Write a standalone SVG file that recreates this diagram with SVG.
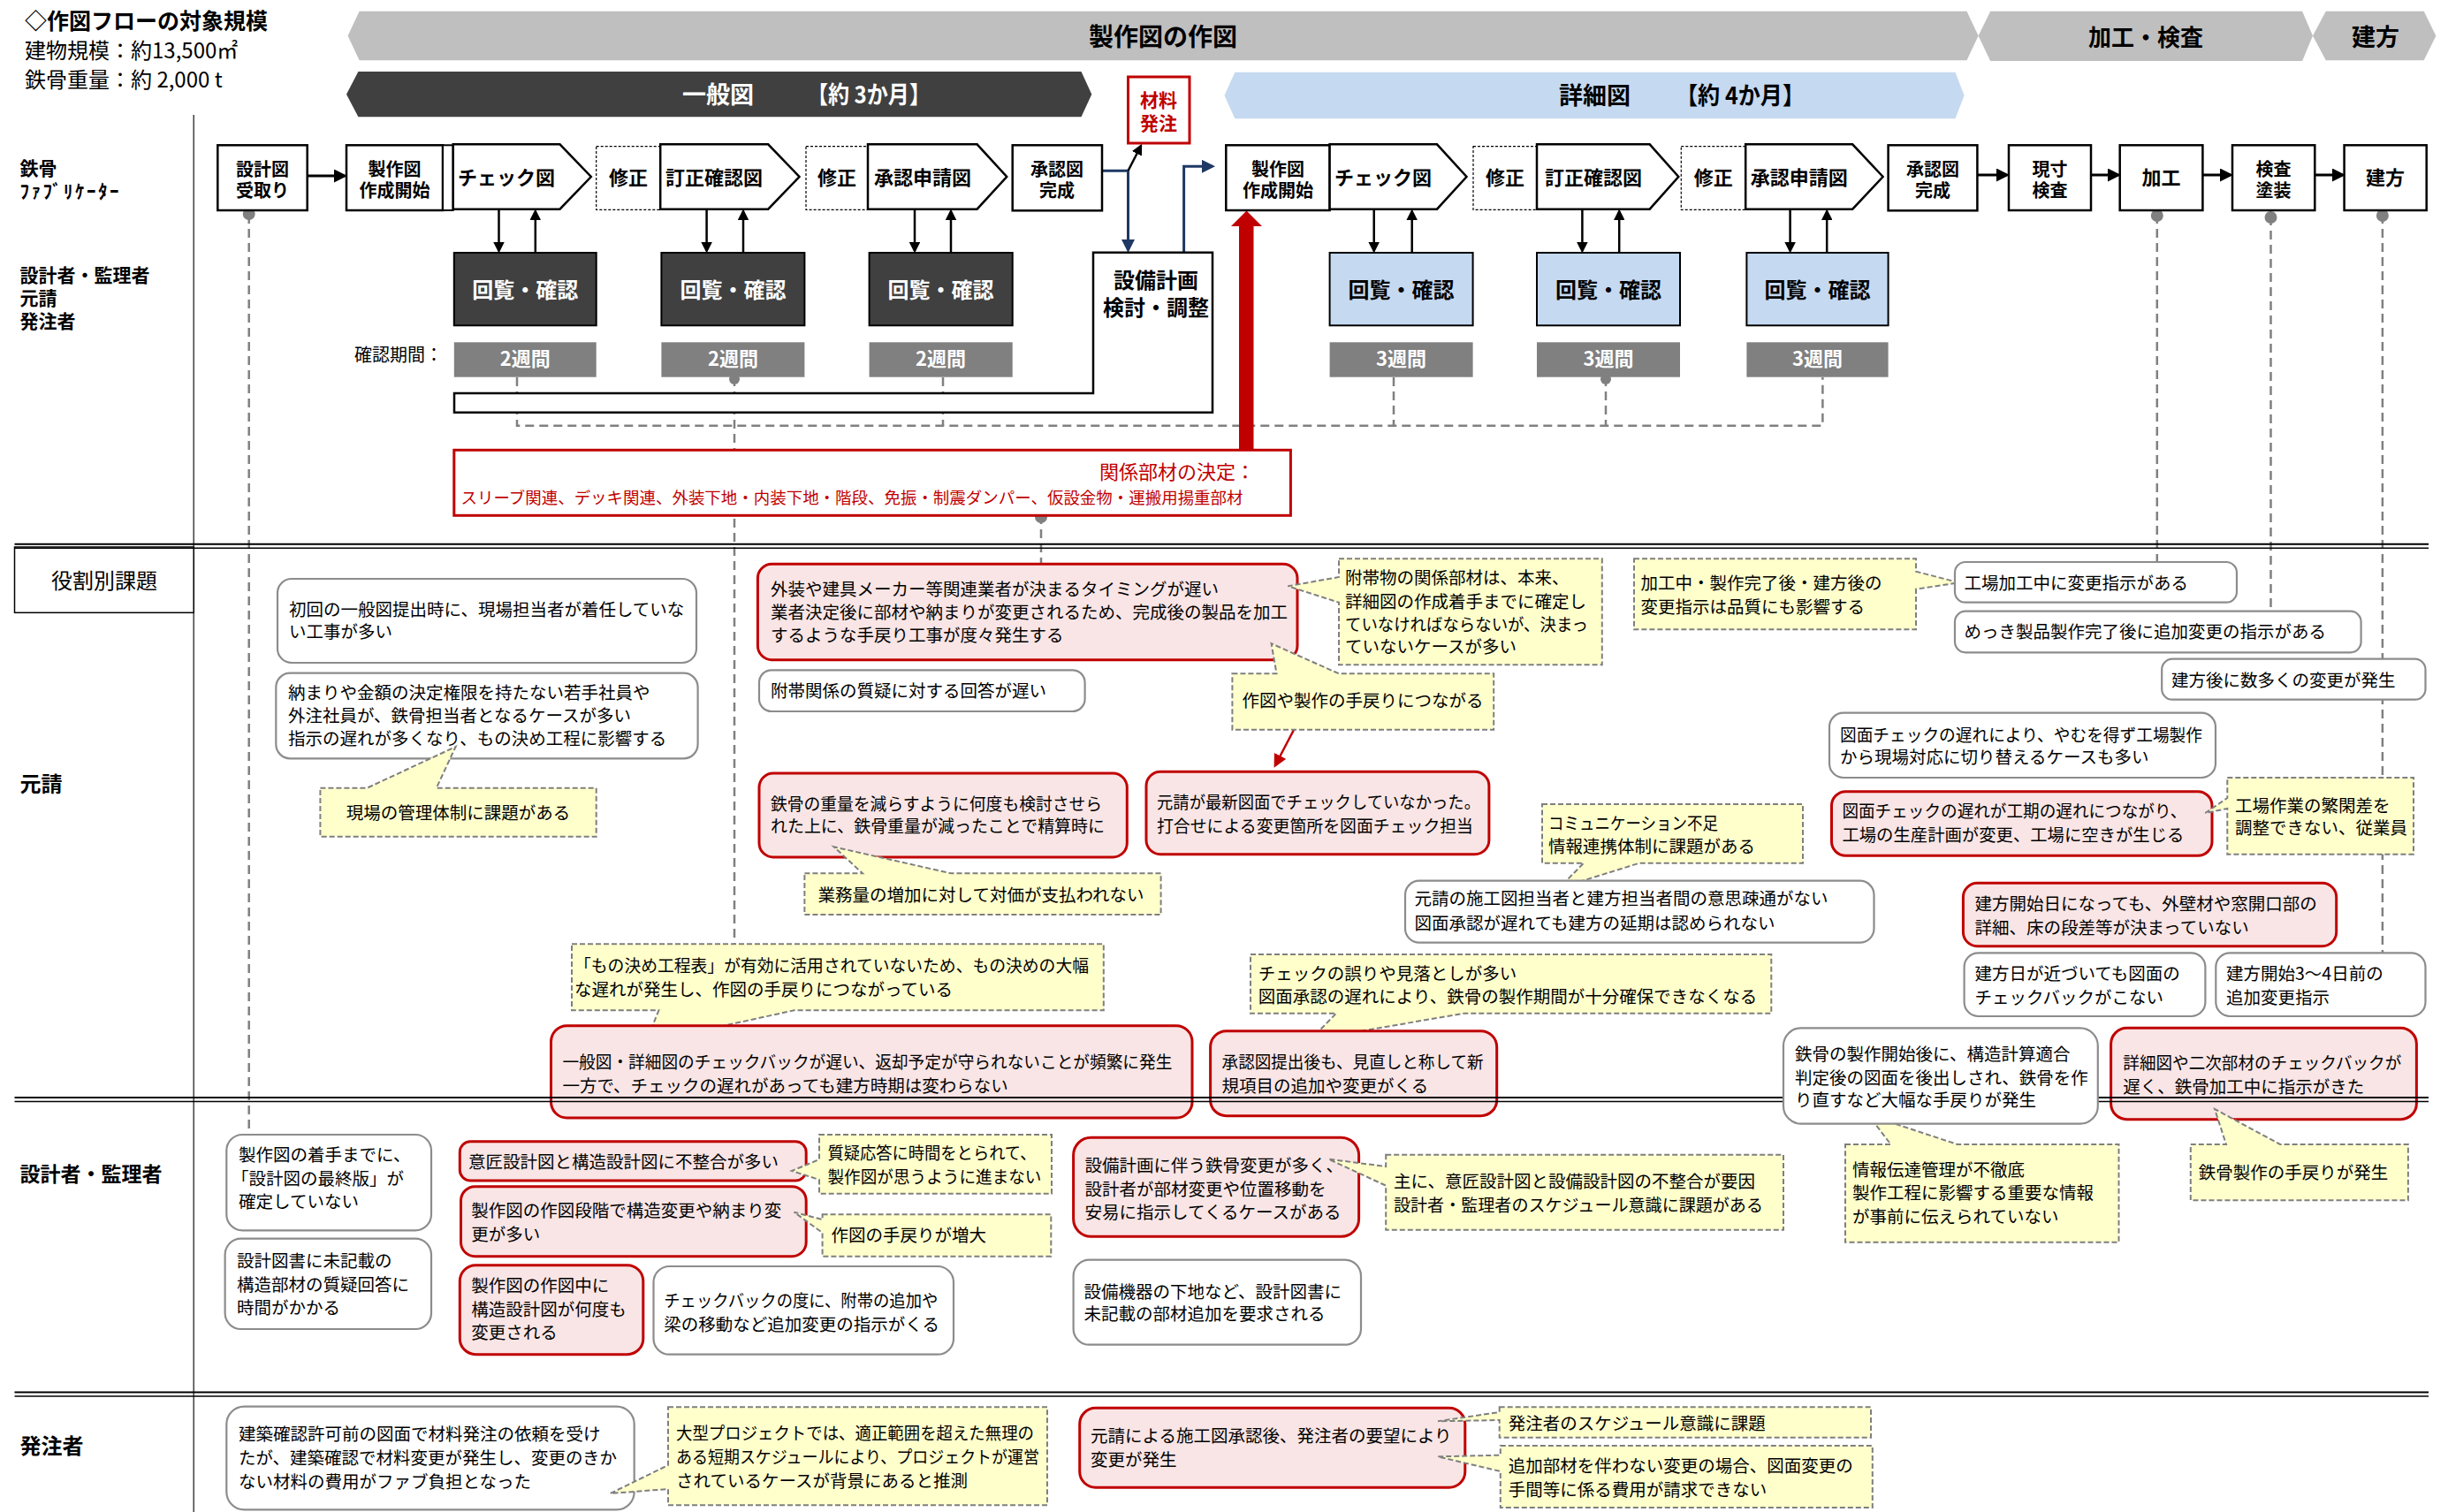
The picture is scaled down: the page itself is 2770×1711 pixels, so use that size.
<svg xmlns="http://www.w3.org/2000/svg" width="2770" height="1711" viewBox="0 0 2770 1711">
<defs>
<style>
text{font-family:"Noto Sans CJK JP","Noto Sans CJK SC",sans-serif;fill:#000}
.t{font-size:19.5px}
.lb{font-size:22px;font-weight:700;text-anchor:middle}
.l2{font-size:20px}
.ln{font-size:21px;font-weight:700}
.wb{fill:#fff;stroke:#8c8c8c;stroke-width:2.2}
.pk{fill:#F9E5E5;stroke:#C00000;stroke-width:3}
.co{fill:#FFFFCC;stroke:#7f7f7f;stroke-width:2;stroke-dasharray:6 3}
.dl{fill:none;stroke:#808080;stroke-width:2.5;stroke-dasharray:10 6}
.fl{fill:#fff;stroke:#000;stroke-width:2.5}
.fx{fill:#fff;stroke:#000;stroke-width:1.2;stroke-dasharray:3 2}
.rv{fill:#404040;stroke:#000;stroke-width:2}
.rb{fill:#C5D9F1;stroke:#000;stroke-width:2}
.du{fill:#808080}
.dot{fill:#808080}
.ar{fill:none;stroke:#000;stroke-width:3}
.ar2{fill:none;stroke:#000;stroke-width:2.5}
.red{fill:#C00000}
.wt{fill:#fff}
.dbl{stroke:#000;fill:none}
</style>
<marker id="ah" viewBox="0 0 10 10" refX="8" refY="5" markerWidth="5" markerHeight="5" orient="auto" markerUnits="strokeWidth"><path d="M0,0 L10,5 L0,10 z" fill="#000"/></marker>
<marker id="abl" viewBox="0 0 10 10" refX="8" refY="5" markerWidth="5" markerHeight="5" orient="auto" markerUnits="strokeWidth"><path d="M0,0 L10,5 L0,10 z" fill="#1F3864"/></marker>
<marker id="ard" viewBox="0 0 10 10" refX="8" refY="5" markerWidth="6" markerHeight="6" orient="auto" markerUnits="strokeWidth"><path d="M0,0 L10,5 L0,10 z" fill="#C00000"/></marker>
</defs>
<rect width="2770" height="1711" fill="#fff"/>

<g id="header">
<text x="28" y="33" style="font-size:25px;font-weight:700">◇作図フローの対象規模</text>
<text x="28" y="66" style="font-size:24px">建物規模：約13,500㎡</text>
<text x="28" y="99" style="font-size:24px">鉄骨重量：約 2,000 t</text>
</g>

<g id="bands">
<polygon points="393.6,40.5 406.6,12.7 2225.5,12.7 2238.6,40.5 2225.5,68.3 406.6,68.3" fill="#BFBFBF"/>
<text x="1316" y="52" style="font-size:28px;font-weight:700;text-anchor:middle">製作図の作図</text>
<polygon points="2238.6,40.5 2252.2,12.7 2605.1,12.7 2617,40.5 2605.1,69 2252.2,69" fill="#BFBFBF"/>
<text x="2428" y="52" style="font-size:26px;font-weight:700;text-anchor:middle">加工・検査</text>
<polygon points="2617,40.5 2631.8,12.7 2742.7,12.7 2756.4,40.5 2742.7,68.3 2631.8,68.3" fill="#BFBFBF"/>
<text x="2688" y="52" style="font-size:27px;font-weight:700;text-anchor:middle">建方</text>
<polygon points="392,106.7 405.4,81 1223.5,81 1235.3,106.7 1223.5,132.3 405.4,132.3" fill="#404040"/>
<text class="wt" x="772" y="117" style="font-size:27px;font-weight:700">一般図</text>
<text class="wt" x="913" y="117" textLength="140" lengthAdjust="spacingAndGlyphs" style="font-size:27px;font-weight:700">【約 3か月】</text>
<polygon points="1385.5,108 1397.3,81.7 2212.5,81.7 2222.6,108 2212.5,134.3 1397.3,134.3" fill="#C5D9F1"/>
<text x="1764" y="118" style="font-size:27px;font-weight:700">詳細図</text>
<text x="1896" y="118" textLength="146" lengthAdjust="spacingAndGlyphs" style="font-size:27px;font-weight:700">【約 4か月】</text>
</g>

<g id="lanes-labels">
<text class="ln" x="22.4" y="198">鉄骨<tspan x="22.4" dy="26" style="letter-spacing:2.5px">ﾌｧﾌﾞﾘｹｰﾀｰ</tspan></text>
<text class="ln" x="22.4" y="319">設計者・監理者<tspan x="22.4" dy="26">元請</tspan><tspan x="22.4" dy="26">発注者</tspan></text>
<text x="501" y="409" style="font-size:20px;text-anchor:end">確認期間：</text>
<text x="22.4" y="896" style="font-size:24px;font-weight:700">元請</text>
<text x="22.4" y="1337" style="font-size:23px;font-weight:700">設計者・監理者</text>
<text x="22.4" y="1645" style="font-size:24px;font-weight:700">発注者</text>
<line x1="219.2" y1="130" x2="219.2" y2="1711" stroke="#404040" stroke-width="1.5"/>
</g>

<g id="connectors">
<path class="dl" d="M281.7,243 V1284"/>
<path class="dl" d="M585,427 V481.7 H2062.4 V427"/>
<path class="dl" d="M831,427 V1161"/>
<path class="dl" d="M1067,427 V481.7"/>
<path class="dl" d="M1577,427 V481.7"/>
<path class="dl" d="M1817,427 V481.7"/>
<path class="dl" d="M1178,583 V638"/>
<path class="dl" d="M2440.8,243 V636"/>
<path class="dl" d="M2569.5,245 V691.7"/>
<path class="dl" d="M2695.9,243 V1078"/>
<circle class="dot" cx="281.7" cy="242" r="7"/>
<circle class="dot" cx="2440.8" cy="244" r="7"/>
<circle class="dot" cx="2569.5" cy="246" r="7"/>
<circle class="dot" cx="2695.9" cy="244" r="7"/>
<circle class="dot" cx="831" cy="429" r="6"/>
<circle class="dot" cx="1817" cy="429" r="6"/>
<circle class="dot" cx="1178" cy="585" r="7"/>
<path class="ar" d="M347.7,199 H390" marker-end="url(#ah)"/>
<path class="ar" d="M2237.4,198 H2271" marker-end="url(#ah)"/>
<path class="ar" d="M2366,198 H2397" marker-end="url(#ah)"/>
<path class="ar" d="M2492.4,198 H2524" marker-end="url(#ah)"/>
<path class="ar" d="M2619.3,198 H2651" marker-end="url(#ah)"/>
<path class="ar2" d="M564.5,237 V284" marker-end="url(#ah)"/>
<path class="ar2" d="M605.8,286 V239" marker-end="url(#ah)"/>
<path class="ar2" d="M799.6,237 V284" marker-end="url(#ah)"/>
<path class="ar2" d="M841,286 V239" marker-end="url(#ah)"/>
<path class="ar2" d="M1035,237 V284" marker-end="url(#ah)"/>
<path class="ar2" d="M1076,286 V239" marker-end="url(#ah)"/>
<path class="ar2" d="M1554.7,237 V284" marker-end="url(#ah)"/>
<path class="ar2" d="M1597.7,286 V239" marker-end="url(#ah)"/>
<path class="ar2" d="M1790.4,237 V284" marker-end="url(#ah)"/>
<path class="ar2" d="M1832.2,286 V239" marker-end="url(#ah)"/>
<path class="ar2" d="M2025.6,237 V284" marker-end="url(#ah)"/>
<path class="ar2" d="M2067.2,286 V239" marker-end="url(#ah)"/>
<path d="M1247,193.3 H1276.5 V283" fill="none" stroke="#1F3864" stroke-width="3" marker-end="url(#abl)"/>
<path class="ar2" d="M1276.5,193.3 L1291,165" marker-end="url(#ah)"/>
<path d="M1339.6,285.7 V188.3 H1372" fill="none" stroke="#1F3864" stroke-width="3" marker-end="url(#abl)"/>
<path d="M1402,509 V256 H1393 L1410.5,238.5 L1428,256 H1418.5 V509 Z" fill="#C00000"/>
<path d="M1465,824 L1443,866" fill="none" stroke="#C00000" stroke-width="2.5" marker-end="url(#ard)"/>
</g>

<g id="flow">
<g id="n-uketori"><rect class="fl" x="246.3" y="164.3" width="101.4" height="73.7"/><text class="lb l2" x="297" y="198.5">設計図<tspan x="297" dy="24.5">受取り</tspan></text></g>
<g id="n-kaishi1"><rect class="fl" x="392" y="164.3" width="109" height="73.7"/><rect class="fl" x="501" y="164.3" width="11.7" height="73.7" style="stroke-width:2"/><text class="lb l2" x="446.5" y="198.5">製作図<tspan x="446.5" dy="24.5">作成開始</tspan></text></g>
<g id="n-check1"><path class="fl" d="M512.7,163.3 H633.5 L668.8,200 L633.5,236.7 H512.7 Z"/><text class="lb" x="573" y="209">チェック図</text></g>
<g id="n-shusei1"><rect class="fx" x="674.7" y="165.7" width="72.5" height="71.6"/><text class="lb" x="711" y="209">修正</text></g>
<g id="n-teisei1"><path class="fl" d="M747.2,163.3 H869.2 L904.5,200 L869.2,236.7 H747.2 Z"/><text class="lb" x="808" y="209">訂正確認図</text></g>
<g id="n-shusei2"><rect class="fx" x="912" y="165.7" width="70" height="71.6"/><text class="lb" x="947" y="209">修正</text></g>
<g id="n-shinsei1"><path class="fl" d="M982,163.3 H1105.6 L1139.2,200 L1105.6,236.7 H982 Z"/><text class="lb" x="1044" y="209">承認申請図</text></g>
<g id="n-kansei1"><rect class="fl" x="1145.7" y="164.3" width="101.3" height="74"/><text class="lb l2" x="1196" y="198.5">承認図<tspan x="1196" dy="24.5">完成</tspan></text></g>
<g id="n-zairyo"><rect x="1276.5" y="87" width="69.5" height="75" fill="#fff" stroke="#C00000" stroke-width="3"/><text class="lb red" x="1311" y="121" style="font-size:21px">材料<tspan x="1311" dy="26">発注</tspan></text></g>
<g id="n-setsubi"><polygon class="fl" points="1237,285.7 1372,285.7 1372,466.7 514,466.7 514,445 1237,445"/><text class="lb" x="1308" y="326" style="font-size:24px">設備計画<tspan x="1308" dy="31">検討・調整</tspan></text></g>
<g id="n-kaishi2"><rect class="fl" x="1387.3" y="164.3" width="117.3" height="73.7"/><text class="lb l2" x="1446" y="198.5">製作図<tspan x="1446" dy="24.5">作成開始</tspan></text></g>
<g id="n-check2"><path class="fl" d="M1504.6,163.3 H1626 L1659.5,200 L1626,236.7 H1504.6 Z"/><text class="lb" x="1565" y="209">チェック図</text></g>
<g id="n-shusei3"><rect class="fx" x="1667" y="165.7" width="72" height="71.6"/><text class="lb" x="1703" y="209">修正</text></g>
<g id="n-teisei2"><path class="fl" d="M1739,163.3 H1866.7 L1899.3,200 L1866.7,236.7 H1739 Z"/><text class="lb" x="1803" y="209">訂正確認図</text></g>
<g id="n-shusei4"><rect class="fx" x="1902.3" y="165.7" width="72.9" height="71.6"/><text class="lb" x="1938.7" y="209">修正</text></g>
<g id="n-shinsei2"><path class="fl" d="M1975.2,163.3 H2096.2 L2130.6,200 L2096.2,236.7 H1975.2 Z"/><text class="lb" x="2035.7" y="209">承認申請図</text></g>
<g id="n-kansei2"><rect class="fl" x="2136.6" y="164.3" width="100.8" height="74"/><text class="lb l2" x="2187" y="198.5">承認図<tspan x="2187" dy="24.5">完成</tspan></text></g>
<g id="n-gensun"><rect class="fl" x="2273" y="164.3" width="93" height="73.7"/><text class="lb l2" x="2319.5" y="198.5">現寸<tspan x="2319.5" dy="24.5">検査</tspan></text></g>
<g id="n-kako"><rect class="fl" x="2398.7" y="164.3" width="93.7" height="73.7"/><text class="lb" x="2445.5" y="209">加工</text></g>
<g id="n-tosou"><rect class="fl" x="2526" y="164.3" width="93.3" height="73.7"/><text class="lb l2" x="2572.6" y="198.5">検査<tspan x="2572.6" dy="24.5">塗装</tspan></text></g>
<g id="n-tatekata"><rect class="fl" x="2652.6" y="164.3" width="93.1" height="73.7"/><text class="lb" x="2699" y="209">建方</text></g>
</g>

<g id="reviews">
<g id="r1"><rect class="rv" x="513.8" y="286" width="160.9" height="82.3"/><text class="lb wt" x="594.2" y="337" style="font-size:24px">回覧・確認</text><rect class="du" x="513.8" y="387.3" width="160.9" height="39.4"/><text class="lb wt" x="594.2" y="414">2週間</text></g>
<g id="r2"><rect class="rv" x="748.4" y="286" width="162" height="82.3"/><text class="lb wt" x="829.4" y="337" style="font-size:24px">回覧・確認</text><rect class="du" x="748.4" y="387.3" width="162" height="39.4"/><text class="lb wt" x="829.4" y="414">2週間</text></g>
<g id="r3"><rect class="rv" x="983.6" y="286" width="162.1" height="82.3"/><text class="lb wt" x="1064.6" y="337" style="font-size:24px">回覧・確認</text><rect class="du" x="983.6" y="387.3" width="162.1" height="39.4"/><text class="lb wt" x="1064.6" y="414">2週間</text></g>
<g id="r4"><rect class="rb" x="1504.6" y="286" width="162" height="82.3"/><text class="lb" x="1585.6" y="337" style="font-size:24px">回覧・確認</text><rect class="du" x="1504.6" y="387.3" width="162" height="39.4"/><text class="lb wt" x="1585.6" y="414">3週間</text></g>
<g id="r5"><rect class="rb" x="1739" y="286" width="162" height="82.3"/><text class="lb" x="1820" y="337" style="font-size:24px">回覧・確認</text><rect class="du" x="1739" y="387.3" width="162" height="39.4"/><text class="lb wt" x="1820" y="414">3週間</text></g>
<g id="r6"><rect class="rb" x="1976.4" y="286" width="160.2" height="82.3"/><text class="lb" x="2056.5" y="337" style="font-size:24px">回覧・確認</text><rect class="du" x="1976.4" y="387.3" width="160.2" height="39.4"/><text class="lb wt" x="2056.5" y="414">3週間</text></g>
</g>

<g id="n-kankei">
<rect x="513.8" y="509.3" width="946.6" height="74" fill="#fff" stroke="#C00000" stroke-width="3"/>
<text class="red" x="1244" y="542" style="font-size:22px">関係部材の決定：</text>
<text class="red" x="521.5" y="570" textLength="885" lengthAdjust="spacingAndGlyphs" style="font-size:18.5px">スリーブ関連、デッキ関連、外装下地・内装下地・階段、免振・制震ダンパー、仮設金物・運搬用揚重部材</text>
</g>

<g id="n-role"><rect x="16.5" y="619" width="202.7" height="74.3" fill="#fff" stroke="#000" stroke-width="1.5"/><text x="118" y="666" style="font-size:24px;text-anchor:middle">役割別課題</text></g>

<g id="issues">
<g id="i-A"><rect class="wb" x="314" y="655" width="474" height="95" rx="16"/><text class="t" x="327" y="697">初回の一般図提出時に、現場担当者が着任していな</text><text class="t" x="327" y="722">い工事が多い</text></g>
<g id="i-B"><rect class="wb" x="312.3" y="761.7" width="477.3" height="96.6" rx="16"/><text class="t" x="326" y="791">納まりや金額の決定権限を持たない若手社員や</text><text class="t" x="326" y="817">外注社員が、鉄骨担当者となるケースが多い</text><text class="t" x="326" y="843">指示の遅れが多くなり、もの決め工程に影響する</text></g>
<g id="c-1"><path class="co" d="M362.4,891.7 H415.4 L515.6,845 L493.8,891.7 H674.7 V946.7 H362.4 Z"/><text class="t" x="518.5" y="927" style="text-anchor:middle">現場の管理体制に課題がある</text></g>
<g id="i-C"><rect class="pk" x="857.4" y="638.3" width="610.6" height="108.4" rx="16"/><text class="t" x="872" y="674">外装や建具メーカー等関連業者が決まるタイミングが遅い</text><text class="t" x="872" y="700">業者決定後に部材や納まりが変更されるため、完成後の製品を加工</text><text class="t" x="872" y="726">するような手戻り工事が度々発生する</text></g>
<g id="i-D"><rect class="wb" x="859" y="758.3" width="368.6" height="46.7" rx="14"/><text class="t" x="872" y="789">附帯関係の質疑に対する回答が遅い</text></g>
<g id="c-E"><path class="co" d="M1515,632.3 H1812.8 V752.3 H1515 V681.7 L1457.4,663.3 L1515,653 Z"/><text class="t" x="1522" y="661">附帯物の関係部材は、本来、</text><text class="t" x="1522" y="688">詳細図の作成着手までに確定し</text><text class="t" x="1522" y="714" textLength="275" lengthAdjust="spacingAndGlyphs">ていなければならないが、決まっ</text><text class="t" x="1522" y="739">ていないケースが多い</text></g>
<g id="c-F"><path class="co" d="M1394.4,762.3 H1444.5 L1438.6,728.3 L1515,762.3 H1690.2 V825.7 H1394.4 Z"/><text class="t" x="1542" y="800" style="text-anchor:middle">作図や製作の手戻りにつながる</text></g>
<g id="i-G"><rect class="pk" x="859" y="875" width="416.3" height="95" rx="16"/><text class="t" x="872" y="917" textLength="375" lengthAdjust="spacingAndGlyphs">鉄骨の重量を減らすように何度も検討させら</text><text class="t" x="872" y="942" textLength="378" lengthAdjust="spacingAndGlyphs">れた上に、鉄骨重量が減ったことで精算時に</text></g>
<g id="c-H"><path class="co" d="M910.4,988.3 H976 L943.6,958.3 L1076,988.3 H1313.6 V1035 H910.4 Z"/><text class="t" x="1110" y="1020" style="text-anchor:middle">業務量の増加に対して対価が支払われない</text></g>
<g id="i-I"><rect class="pk" x="1297" y="873.3" width="387.9" height="93.4" rx="16"/><text class="t" x="1309" y="915" textLength="366" lengthAdjust="spacingAndGlyphs">元請が最新図面でチェックしていなかった。</text><text class="t" x="1309" y="942" textLength="358" lengthAdjust="spacingAndGlyphs">打合せによる変更箇所を図面チェック担当</text></g>
<g id="c-J"><path class="co" d="M1745,910 H2040 V976.7 H1855 L1764,1005 L1792,976.7 H1745 Z"/><text class="t" x="1752" y="939" textLength="192" lengthAdjust="spacingAndGlyphs">コミュニケーション不足</text><text class="t" x="1752" y="965">情報連携体制に課題がある</text></g>
<g id="i-K"><rect class="wb" x="1590" y="996.7" width="530.5" height="70" rx="16"/><text class="t" x="1600.6" y="1024">元請の施工図担当者と建方担当者間の意思疎通がない</text><text class="t" x="1600.6" y="1052">図面承認が遅れても建方の延期は認められない</text></g>
<g id="c-L"><path class="co" d="M647,1068.3 H1248.8 V1143.3 H898.6 L730.7,1180 L745.4,1143.3 H647 Z"/><text class="t" x="650" y="1100" textLength="582" lengthAdjust="spacingAndGlyphs">「もの決め工程表」が有効に活用されていないため、もの決めの大幅</text><text class="t" x="650" y="1127">な遅れが発生し、作図の手戻りにつながっている</text></g>
<g id="i-M"><rect class="pk" x="623.5" y="1160.7" width="725.5" height="104.3" rx="18"/><text class="t" x="636.4" y="1209" textLength="690" lengthAdjust="spacingAndGlyphs">一般図・詳細図のチェックバックが遅い、返却予定が守られないことが頻繁に発生</text><text class="t" x="636.4" y="1236">一方で、チェックの遅れがあっても建方時期は変わらない</text></g>
<g id="c-N"><path class="co" d="M1415,1080 H2004.3 V1146.7 H1656.6 L1482.8,1176.7 L1512,1146.7 H1415 Z"/><text class="t" x="1423.8" y="1109">チェックの誤りや見落としが多い</text><text class="t" x="1423.8" y="1135">図面承認の遅れにより、鉄骨の製作期間が十分確保できなくなる</text></g>
<g id="i-O"><rect class="pk" x="1369.6" y="1166.7" width="324.1" height="96" rx="18"/><text class="t" x="1382.6" y="1209" textLength="296" lengthAdjust="spacingAndGlyphs">承認図提出後も、見直しと称して新</text><text class="t" x="1382.6" y="1236">規項目の追加や変更がくる</text></g>
<g id="c-P"><path class="co" d="M1849,632.3 H2168 V646.7 L2216.6,659.3 L2168,666.7 V712.3 H1849 Z"/><text class="t" x="1856.6" y="667">加工中・製作完了後・建方後の</text><text class="t" x="1856.6" y="694">変更指示は品質にも影響する</text></g>
<g id="i-Q"><rect class="wb" x="2212" y="636" width="319" height="45.7" rx="12"/><text class="t" x="2222.6" y="667">工場加工中に変更指示がある</text></g>
<g id="i-R"><rect class="wb" x="2212" y="691.7" width="459.6" height="46.6" rx="12"/><text class="t" x="2222.6" y="722">めっき製品製作完了後に追加変更の指示がある</text></g>
<g id="i-S"><rect class="wb" x="2446.2" y="745.7" width="298.3" height="46" rx="12"/><text class="t" x="2457" y="777">建方後に数多くの変更が発生</text></g>
<g id="i-T"><rect class="wb" x="2070" y="806.7" width="437" height="73.3" rx="16"/><text class="t" x="2082" y="839" textLength="410" lengthAdjust="spacingAndGlyphs">図面チェックの遅れにより、やむを得ず工場製作</text><text class="t" x="2082" y="864">から現場対応に切り替えるケースも多い</text></g>
<g id="i-U"><rect class="pk" x="2072.5" y="895.7" width="430.5" height="72.6" rx="16"/><text class="t" x="2084.4" y="925" textLength="390" lengthAdjust="spacingAndGlyphs">図面チェックの遅れが工期の遅れにつながり、</text><text class="t" x="2084.4" y="952" textLength="387" lengthAdjust="spacingAndGlyphs">工場の生産計画が変更、工場に空きが生じる</text></g>
<g id="c-V"><path class="co" d="M2520.3,880 H2731 V966.7 H2520.3 V915 L2495.4,920 L2520.3,903 Z"/><text class="t" x="2529" y="919">工場作業の繁閑差を</text><text class="t" x="2529" y="944">調整できない、従業員</text></g>
<g id="i-W"><rect class="pk" x="2221.4" y="999.3" width="422.3" height="71.4" rx="16"/><text class="t" x="2234.4" y="1030">建方開始日になっても、外壁材や窓開口部の</text><text class="t" x="2234.4" y="1057">詳細、床の段差等が決まっていない</text></g>
<g id="i-X"><rect class="wb" x="2222.6" y="1078.3" width="272.8" height="71.7" rx="16"/><text class="t" x="2234.4" y="1109">建方日が近づいても図面の</text><text class="t" x="2234.4" y="1136">チェックバックがこない</text></g>
<g id="i-Y"><rect class="wb" x="2507.3" y="1078.3" width="237.2" height="71.7" rx="16"/><text class="t" x="2519" y="1109">建方開始3〜4日前の</text><text class="t" x="2519" y="1136">追加変更指示</text></g>
<g id="i-AA"><rect class="pk" x="2388.6" y="1163.3" width="345.8" height="103.4" rx="18"/><text class="t" x="2402.3" y="1210" textLength="315" lengthAdjust="spacingAndGlyphs">詳細図や二次部材のチェックバックが</text><text class="t" x="2402.3" y="1237">遅く、鉄骨加工中に指示がきた</text></g>
<g id="c-BB"><path class="co" d="M2088,1295 H2139.5 L2114,1261.7 L2214.8,1295 H2397.5 V1405.7 H2088 Z"/><text class="t" x="2096" y="1331">情報伝達管理が不徹底</text><text class="t" x="2096" y="1357">製作工程に影響する重要な情報</text><text class="t" x="2096" y="1384">が事前に伝えられていない</text></g>
<g id="c-CC"><path class="co" d="M2478.8,1295 H2519 L2506,1255 L2580,1295 H2724.9 V1358.3 H2478.8 Z"/><text class="t" x="2595" y="1334" style="text-anchor:middle">鉄骨製作の手戻りが発生</text></g>
<g id="i-DD"><rect class="wb" x="256.3" y="1284" width="231.7" height="108.3" rx="18"/><text class="t" x="270" y="1314">製作図の着手までに、</text><text class="t" x="262" y="1341">「設計図の最終版」が</text><text class="t" x="270" y="1367">確定していない</text></g>
<g id="i-EE"><rect class="wb" x="254.6" y="1401.7" width="233.4" height="102.3" rx="18"/><text class="t" x="268" y="1434">設計図書に未記載の</text><text class="t" x="268" y="1461">構造部材の質疑回答に</text><text class="t" x="268" y="1487">時間がかかる</text></g>
<g id="i-FF"><rect class="pk" x="520.3" y="1291.7" width="391.9" height="44.3" rx="12"/><text class="t" x="530" y="1322">意匠設計図と構造設計図に不整合が多い</text></g>
<g id="i-GG"><rect class="pk" x="521.5" y="1342.7" width="390.7" height="79" rx="16"/><text class="t" x="533.3" y="1377">製作図の作図段階で構造変更や納まり変</text><text class="t" x="533.3" y="1404">更が多い</text></g>
<g id="i-HH"><rect class="pk" x="520.3" y="1431.7" width="207.5" height="101" rx="18"/><text class="t" x="533.3" y="1462">製作図の作図中に</text><text class="t" x="533.3" y="1489">構造設計図が何度も</text><text class="t" x="533.3" y="1515">変更される</text></g>
<g id="i-II"><rect class="wb" x="739.5" y="1433" width="339.5" height="99.7" rx="18"/><text class="t" x="751.3" y="1479" textLength="310" lengthAdjust="spacingAndGlyphs">チェックバックの度に、附帯の追加や</text><text class="t" x="751.3" y="1506">梁の移動など追加変更の指示がくる</text></g>
<g id="c-JJ"><path class="co" d="M927,1284 H1190 V1350.7 H927 V1335 L896,1325 L927,1312 Z"/><text class="t" x="936.5" y="1312" textLength="236" lengthAdjust="spacingAndGlyphs">質疑応答に時間をとられて、</text><text class="t" x="936.5" y="1339" textLength="242" lengthAdjust="spacingAndGlyphs">製作図が思うように進まない</text></g>
<g id="c-KK"><path class="co" d="M930.6,1374.3 H1189.3 V1421.7 H930.6 V1395 L898.6,1371.7 L930.6,1380 Z"/><text class="t" x="940.6" y="1405">作図の手戻りが増大</text></g>
<g id="i-LL"><rect class="pk" x="1214.6" y="1287.3" width="323" height="112" rx="20"/><text class="t" x="1227.6" y="1326">設備計画に伴う鉄骨変更が多く、</text><text class="t" x="1227.6" y="1353">設計者が部材変更や位置移動を</text><text class="t" x="1227.6" y="1379">安易に指示してくるケースがある</text></g>
<g id="c-MM"><path class="co" d="M1568.2,1306.7 H2018 V1391.7 H1568.2 V1341.7 L1503.4,1311.7 L1568.2,1320 Z"/><text class="t" x="1577" y="1344">主に、意匠設計図と設備設計図の不整合が要因</text><text class="t" x="1577" y="1371" textLength="418" lengthAdjust="spacingAndGlyphs">設計者・監理者のスケジュール意識に課題がある</text></g>
<g id="i-NN"><rect class="wb" x="1214.6" y="1425.7" width="325.4" height="96" rx="18"/><text class="t" x="1226.4" y="1469">設備機器の下地など、設計図書に</text><text class="t" x="1226.4" y="1494">未記載の部材追加を要求される</text></g>
<g id="i-OO"><rect class="wb" x="256.3" y="1591.7" width="461.4" height="116.6" rx="20"/><text class="t" x="270" y="1630">建築確認許可前の図面で材料発注の依頼を受け</text><text class="t" x="270" y="1657">たが、建築確認で材料変更が発生し、変更のきか</text><text class="t" x="270" y="1684">ない材料の費用がファブ負担となった</text></g>
<g id="c-PP"><path class="co" d="M756,1592.3 H1185 V1703.3 H756 V1685 L690.6,1690 L756,1658 Z"/><text class="t" x="765" y="1629" textLength="405" lengthAdjust="spacingAndGlyphs">大型プロジェクトでは、適正範囲を超えた無理の</text><text class="t" x="765" y="1656" textLength="411" lengthAdjust="spacingAndGlyphs">ある短期スケジュールにより、プロジェクトが運営</text><text class="t" x="765" y="1683">されているケースが背景にあると推測</text></g>
<g id="i-QQ"><rect class="pk" x="1221.7" y="1593.3" width="436.1" height="90" rx="18"/><text class="t" x="1234" y="1632">元請による施工図承認後、発注者の要望により</text><text class="t" x="1234" y="1659">変更が発生</text></g>
<g id="c-RR"><path class="co" d="M1696.7,1592.3 H2117 V1626.7 H1696.7 V1607 L1627,1608.3 L1696.7,1598 Z"/><text class="t" x="1706.7" y="1618">発注者のスケジュール意識に課題</text></g>
<g id="c-SS"><path class="co" d="M1697.8,1636 H2118.8 V1706 H1697.8 V1665 L1627,1648.3 L1697.8,1646.7 Z"/><text class="t" x="1706.7" y="1666">追加部材を伴わない変更の場合、図面変更の</text><text class="t" x="1706.7" y="1693">手間等に係る費用が請求できない</text></g>
</g>

<g id="lane-lines">
<line class="dbl" x1="16.5" y1="615.8" x2="2748" y2="615.8" stroke-width="2"/>
<line class="dbl" x1="16.5" y1="620.2" x2="2748" y2="620.2" stroke-width="1.5"/>
<line class="dbl" x1="16.5" y1="1242" x2="2748" y2="1242" stroke-width="2"/>
<line class="dbl" x1="16.5" y1="1246.4" x2="2748" y2="1246.4" stroke-width="1.5"/>
<line class="dbl" x1="16.5" y1="1575.6" x2="2748" y2="1575.6" stroke-width="2"/>
<line class="dbl" x1="16.5" y1="1580" x2="2748" y2="1580" stroke-width="1.5"/>
</g>

<g id="i-Z"><rect class="wb" x="2018" y="1163.3" width="355.8" height="108.4" rx="20"/><text class="t" x="2031" y="1200">鉄骨の製作開始後に、構造計算適合</text><text class="t" x="2031" y="1227">判定後の図面を後出しされ、鉄骨を作</text><text class="t" x="2031" y="1252">り直すなど大幅な手戻りが発生</text></g>
</svg>
